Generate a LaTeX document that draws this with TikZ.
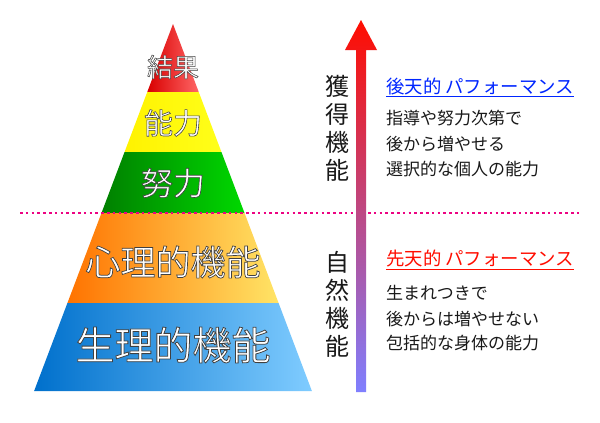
\documentclass[tikz,border=0pt]{standalone}
\usepackage{fontspec}
\newfontfamily\jp{Noto Sans CJK JP}
\newfontfamily\jpb{Noto Sans CJK JP}[FakeBold=2]
\begin{document}
\begin{tikzpicture}[x=1pt,y=-1pt,
  side/.style={text=black!90, font=\jp\fontsize{17}{17}\selectfont, anchor=west, inner sep=0},
  head/.style={anchor=west, inner sep=0, font=\jp\fontsize{18.4}{18.4}\selectfont},
  vert/.style={font=\jp\fontsize{24}{24}\selectfont, inner sep=0, text=black!90}]
\useasboundingbox (0,0) rectangle (600,423);
\fill[white] (0,0) rectangle (600,423);
\def\hw#1{(0.3784*(#1-24))}
\newcommand\layer[4]{%
  \shade[left color=#3, right color=#4]
   ({173-\hw{#1}},#1) -- ({173+\hw{#1}},#1) -- ({173+\hw{#2}},#2) -- ({173-\hw{#2}},#2) -- cycle;}
\layer{24}{92}{red!85!black}{red!60}
\layer{92}{152}{yellow!90!orange}{yellow!90}
\layer{152}{213}{green!50!black}{green!85!black}
\layer{213}{303}{orange!90!red}{orange!35!yellow!60}
\layer{303}{391}{blue!45!cyan!80!black}{cyan!60!blue!50}
\newcommand\olabel[4]{%
  \node[text=white,font=\jpb\fontsize{#4}{#4}\selectfont] (#3) at (#1,#2)
   {\special{pdf:literal direct 2 Tr 1.4 w 0.25 0.25 0.25 RG}#3\special{pdf:literal direct 0 Tr}};}
\olabel{173}{67}{結果}{26}
\olabel{173}{123}{能力}{29}
\olabel{173}{183}{努力}{32}
\olabel{173}{262}{心理的機能}{35}
\olabel{173}{345}{生理的機能}{39}
\coordinate (dl) at (20,213); \coordinate (dr) at (580,213);
\draw[magenta!90!red, line width=2.6pt, dash pattern=on 2.6pt off 3.2pt] (dl) -- (dr);
\shade[top color=red!90!orange, bottom color=blue!50!white]
  (356,392) -- (356,50) -- (345,50) -- (361,20) -- (377,50) -- (366,50) -- (366,392) -- cycle;
\node[vert,align=center] (v1) at (337,128) {獲\\[4pt]得\\[4pt]機\\[4pt]能};
\node[vert,align=center] (v2) at (337,304) {自\\[4pt]然\\[4pt]機\\[4pt]能};
\node[head, text=blue!85!cyan] (h1) at (386,87) {\underline{後天的 パフォーマンス}};
\node[side] (a1) at (386,118) {指導や努力次第で};
\node[side] (a2) at (386,144) {後から増やせる};
\node[side] (a3) at (386,169) {選択的な個人の能力};
\node[head, text=red!90!orange] (h2) at (386,260) {\underline{先天的 パフォーマンス}};
\node[side] (b1) at (386,293) {生まれつきで};
\node[side] (b2) at (386,319) {後からは増やせない};
\node[side] (b3) at (386,343) {包括的な身体の能力};
\end{tikzpicture}
\end{document}
